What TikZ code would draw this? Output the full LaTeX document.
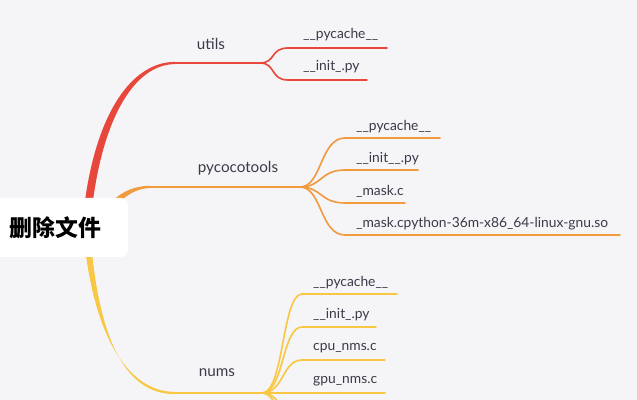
\documentclass[tikz,border=0pt]{standalone}
\usepackage{fontspec}
\setmainfont{Lato}
\newfontfamily\cjk{Noto Sans CJK SC}
\definecolor{bg}{HTML}{F5F5F8}
\definecolor{hong}{HTML}{E8483B}
\definecolor{cheng}{HTML}{F19A3E}
\definecolor{huang}{HTML}{F8C744}
\definecolor{zi}{HTML}{3A3A48}
\begin{document}
\begin{tikzpicture}[x=0.03cm,y=-0.03cm,
    zhu/.style={text=zi,font=\fontsize{13}{15}\selectfont,inner sep=0pt},
    ye/.style={text=zi,font=\fontsize{11.8}{13}\selectfont,inner sep=0pt,anchor=west},
    xian/.style={line width=1.4pt,line cap=round}]
    % 背景
    \fill[bg] (0,0) rectangle (637,400);
    \useasboundingbox (0,0) rectangle (637,400);
    \begin{scope}
    \clip (0,0) rectangle (637,400);
    % utils 分支
    \coordinate (U) at (175,63);
    \coordinate (Uf) at (260,63);
    \coordinate (u1) at (387,48);
    \coordinate (u2) at (367,80);
    \fill[hong] (82,228) .. controls (91,118) and (130,61.8) .. (175,61.9) -- (175,64.1) .. controls (134,64.3) and (99,120) .. (90,228) -- cycle;
    \draw[hong,xian] (U) -- (Uf);
    \draw[hong,xian] (Uf) .. controls (276,63) and (270,48) .. (288,48) -- (u1);
    \draw[hong,xian] (Uf) .. controls (276,63) and (270,80) .. (288,80) -- (u2);
    \node[zhu] (utils) at (211,44) {utils};
    \node[ye] (u1t) at (303,35) {\_\_pycache\_\_};
    \node[ye] (u2t) at (303,67) {\_\_init\_.py};
    % pycocotools 分支
    \coordinate (P) at (150,187);
    \coordinate (Pf) at (300,187);
    \coordinate (p1) at (440,138);
    \coordinate (p2) at (418,170);
    \coordinate (p3) at (405,203);
    \coordinate (p4) at (620,235);
    \fill[cheng] (100,213) .. controls (116,195) and (130,185.8) .. (150,185.9) -- (150,188.1) .. controls (133,188.4) and (120,199) .. (105,219) -- cycle;
    \draw[cheng,xian] (P) -- (Pf);
    \draw[cheng,xian] (Pf) .. controls (322,187) and (320,138) .. (345,138) -- (p1);
    \draw[cheng,xian] (Pf) .. controls (322,187) and (320,170) .. (345,170) -- (p2);
    \draw[cheng,xian] (Pf) .. controls (322,187) and (320,203) .. (345,203) -- (p3);
    \draw[cheng,xian] (Pf) .. controls (322,187) and (320,235) .. (345,235) -- (p4);
    \node[zhu] (pyc) at (238,168) {pycocotools};
    \node[ye] (p1t) at (356,127) {\_\_pycache\_\_};
    \node[ye] (p2t) at (356,159) {\_\_init\_\_.py};
    \node[ye] (p3t) at (356,191) {\_mask.c};
    \node[ye] (p4t) at (356,224) {\_mask.cpython-36m-x86\_64-linux-gnu.so};
    % nums 分支
    \coordinate (N) at (175,393);
    \coordinate (Nf) at (262,393);
    \coordinate (n1) at (397,294);
    \coordinate (n2) at (376,327);
    \coordinate (n3) at (385,360);
    \coordinate (n4) at (385,393);
    \coordinate (n5) at (385,426);
    \coordinate (n6) at (385,459);
    \fill[huang] (83,228) .. controls (92,336) and (128,391.9) .. (175,391.9) -- (175,394.1) .. controls (124,394.4) and (97,336) .. (90,228) -- cycle;
    \draw[huang,xian] (N) -- (Nf);
    \draw[huang,xian] (Nf) .. controls (284,393) and (282,294) .. (302,294) -- (n1);
    \draw[huang,xian] (Nf) .. controls (284,393) and (282,327) .. (302,327) -- (n2);
    \draw[huang,xian] (Nf) .. controls (284,393) and (282,360) .. (302,360) -- (n3);
    \draw[huang,xian] (Nf) -- (n4);
    \draw[huang,xian] (Nf) .. controls (284,393) and (282,426) .. (302,426) -- (n5);
    \draw[huang,xian] (Nf) .. controls (284,393) and (282,459) .. (302,459) -- (n6);
    \node[zhu] (nums) at (217,373) {nums};
    \node[ye] (n1t) at (313,283) {\_\_pycache\_\_};
    \node[ye] (n2t) at (313,315) {\_\_init\_.py};
    \node[ye] (n3t) at (313,348) {cpu\_nms.c};
    \node[ye] (n4t) at (313,381) {gpu\_nms.c};
    % 中心主题
    \node[fill=white,rounded corners=6pt,minimum height=1.77cm,text width=3.09cm,inner xsep=0.45cm,align=left,
        font=\cjk\bfseries\fontsize{19.5}{22}\selectfont,text=black] (gen) at (61.5,227.5) {删除文件};
    \end{scope}
\end{tikzpicture}
\end{document}
